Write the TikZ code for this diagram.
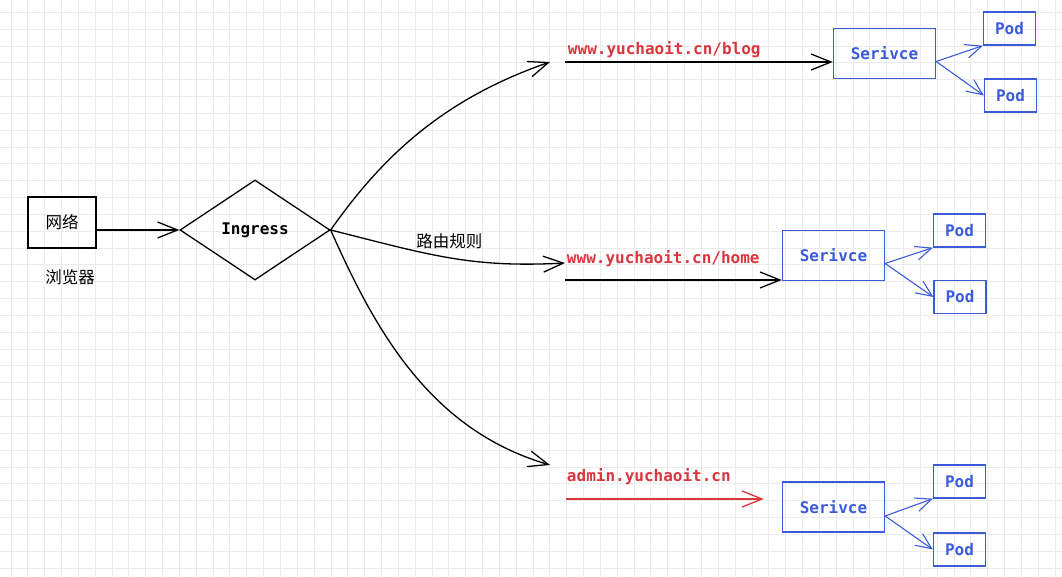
\documentclass[tikz,border=0pt]{standalone}
\usepackage{fontspec}
\setmonofont{DejaVu Sans Mono}
\newfontfamily\cjk{Noto Sans CJK SC}
\usetikzlibrary{arrows.meta,shapes.geometric}

\definecolor{urlred}{HTML}{D9363E}
\definecolor{svcblue}{HTML}{3B5BDB}
\definecolor{gridgray}{HTML}{EBEBEB}

\begin{document}
\begin{tikzpicture}[x=1pt, y=-1pt, line width=1.3pt,
    >={Straight Barb[length=20pt,width=16pt]},
    mono/.style={font=\ttfamily\bfseries\fontsize{16}{16}\selectfont},
    zh/.style={font=\cjk\fontsize{16.5}{16.5}\selectfont},
    svcbox/.style={draw=svcblue, text=svcblue, mono, minimum width=102pt, minimum height=50pt},
    podbox/.style={draw=svcblue, text=svcblue, mono, minimum width=52pt, minimum height=33pt},
    podarrow/.style={->, >={Straight Barb[length=16pt,width=14pt]}, svcblue, line width=1.1pt}]

        \useasboundingbox (0,0) rectangle (1062,577);

        % Grid
        \foreach \i in {0,...,62}
            \draw[gridgray, line width=0.9pt] (11+16.84*\i,0) -- (11+16.84*\i,577);
        \foreach \j in {0,...,33}
            \draw[gridgray, line width=0.9pt] (0,12.3+16.84*\j) -- (1062,12.3+16.84*\j);

        % Client
        \node[draw, zh, minimum width=68pt, minimum height=51pt] (net) at (62,222.5) {网络};
        \node[zh] (browser) at (70,277) {浏览器};

        % Ingress
        \node[draw, diamond, aspect=1.5, minimum width=150pt, minimum height=100pt,
              inner sep=0pt, mono] (ing) at (255,230) {Ingress};
        \draw[->] (net.east |- ing.west) -- (ing.west);

        % Routing rules
        \coordinate (tipA) at (550,62);
        \coordinate (tipB) at (565,263);
        \coordinate (tipC) at (550,465);
        \draw[->] (ing.east) .. controls (380,160) and (440,100) .. (tipA);
        \draw[->] (ing.east) .. controls (430,255) and (470,268) .. (tipB)
            node[zh, pos=0.5, above=5pt] (rule) {路由规则};
        \draw[->] (ing.east) .. controls (375,330) and (430,430) .. (tipC);

        % Host /blog
        \node[mono, text=urlred, anchor=west] (urlA) at (564,50) {www.yuchaoit.cn/blog};
        \node[svcbox] (svcA) at (884.5,53.5) {Serivce};
        \node[podbox] (podA1) at (1009.5,28.5) {Pod};
        \node[podbox] (podA2) at (1010.5,95.5) {Pod};
        \coordinate (startA) at (565,62);
        \draw[->] (startA) -- (startA -| svcA.west);
        \draw[podarrow] ([yshift=-8pt]svcA.east) -- (podA1.south west);
        \draw[podarrow] ([yshift=-8pt]svcA.east) -- (podA2.west);

        % Host /home
        \node[mono, text=urlred, anchor=west] (urlB) at (563,259) {www.yuchaoit.cn/home};
        \node[svcbox] (svcB) at (833.5,255.5) {Serivce};
        \node[podbox] (podB1) at (959.5,230.5) {Pod};
        \node[podbox] (podB2) at (960,297) {Pod};
        \coordinate (startB) at (565,280);
        \draw[->] (startB) -- (startB -| svcB.west);
        \draw[podarrow] ([yshift=-8pt]svcB.east) -- (podB1.south west);
        \draw[podarrow] ([yshift=-8pt]svcB.east) -- (podB2.west);

        % Host admin
        \node[mono, text=urlred, anchor=west] (urlC) at (563,477) {admin.yuchaoit.cn};
        \node[svcbox] (svcC) at (833.5,507) {Serivce};
        \node[podbox] (podC1) at (959.5,481.5) {Pod};
        \node[podbox] (podC2) at (959.5,549.5) {Pod};
        \coordinate (startC) at (566,499);
        \draw[->, urlred] (startC) -- ([xshift=-18pt]startC -| svcC.west);
        \draw[podarrow] ([yshift=-9pt]svcC.east) -- (podC1.south west);
        \draw[podarrow] ([yshift=-9pt]svcC.east) -- (podC2.west);

    \end{tikzpicture}
\end{document}
